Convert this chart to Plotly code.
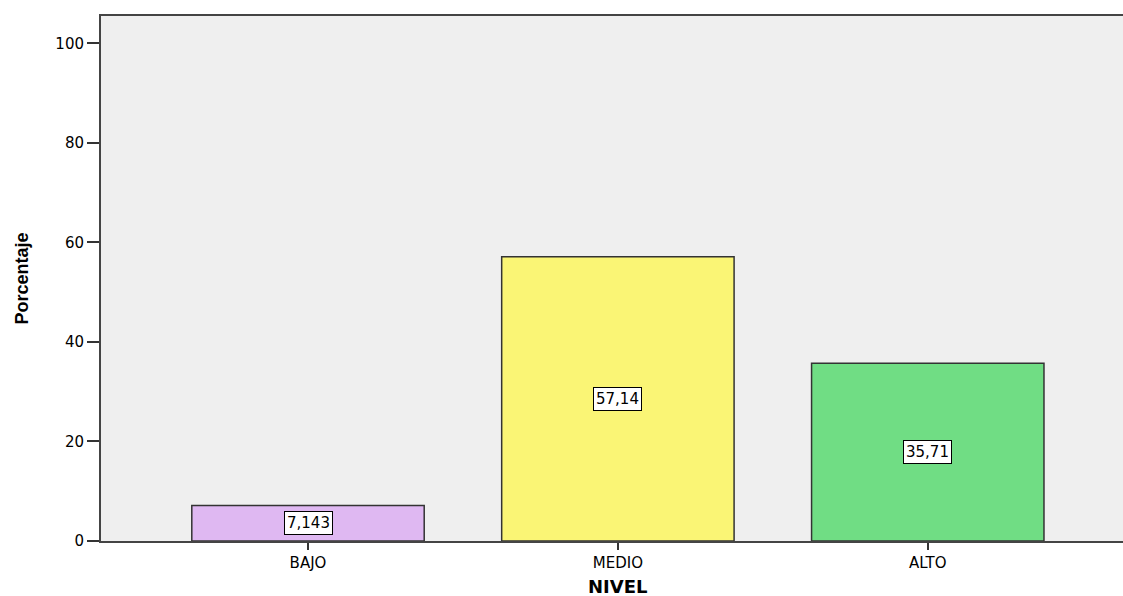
import plotly.graph_objects as go

# Porcentaje por nivel
niveles = ["BAJO", "MEDIO", "ALTO"]
porcentajes = [7.143, 57.14, 35.71]
etiquetas = ["7,143", "57,14", "35,71"]
colores = ["#DFB8F2", "#FAF575", "#70DD84"]

y_ticks = [0, 20, 40, 60, 80, 100]

WIDE = "DejaVu Sans, Verdana, sans-serif"

fig = go.Figure()
fig.add_trace(go.Bar(
    x=list(range(len(niveles))),
    y=porcentajes,
    width=0.75,
    marker=dict(color=colores, line=dict(color="#333333", width=1.5)),
    hoverinfo="skip",
))

for i, (v, t) in enumerate(zip(porcentajes, etiquetas)):
    fig.add_annotation(
        x=i, y=v / 2, text=t, showarrow=False,
        font=dict(family=WIDE, size=15, color="#000000"),
        bgcolor="#FFFFFF", bordercolor="#000000", borderwidth=1, borderpad=2,
    )

# x-axis title placed below the tick labels, centred on the middle category
fig.add_annotation(
    x=1, xref="x", y=0, yref="paper", yshift=-45, yanchor="middle",
    text="<b>NIVEL</b>", showarrow=False,
    font=dict(family=WIDE, size=18, color="#000000"),
)

fig.update_layout(
    width=1123, height=596,
    margin=dict(l=101, r=0, t=16, b=55),
    paper_bgcolor="#FFFFFF",
    plot_bgcolor="#EFEFEF",
    showlegend=False,
    font=dict(family=WIDE, color="#000000"),
    xaxis=dict(
        range=[-0.668, 2.63],
        automargin=False,
        tickmode="array",
        tickvals=list(range(len(niveles))),
        ticktext=niveles,
        ticks="outside", ticklen=7, tickwidth=2, tickcolor="#333333",
        showline=True, linecolor="#444444", linewidth=2, mirror=True,
        showgrid=False, zeroline=False,
        tickfont=dict(size=15),
    ),
    yaxis=dict(
        range=[0, 105.5],
        automargin=False,
        tickmode="array",
        tickvals=y_ticks,
        ticks="outside", ticklen=12, tickwidth=2, tickcolor="#333333",
        showline=True, linecolor="#444444", linewidth=2,
        showgrid=False, zeroline=False,
        tickfont=dict(size=15),
        title=dict(text="<b>Porcentaje</b>",
                   font=dict(family="Liberation Sans Narrow, Liberation Sans, Arial", size=18),
                   standoff=22),
    ),
)

fig.write_html("out.html")
